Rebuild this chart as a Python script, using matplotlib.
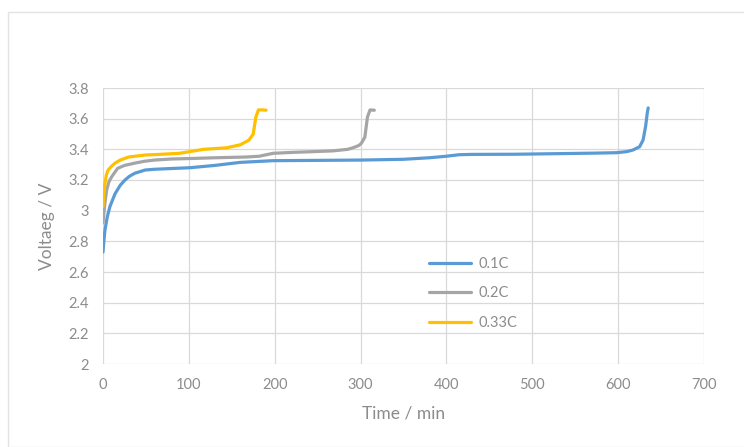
import matplotlib
matplotlib.use("Agg")
import matplotlib.pyplot as plt
from matplotlib.patches import Rectangle

# 0.1C
t_01 = [0, 1, 2.3, 5, 8, 14, 20, 25.6, 31, 37, 49, 60, 80, 101, 130, 160, 198, 250, 300, 350, 380, 400, 415, 430, 480, 532, 570, 598, 610, 617, 625, 629, 632, 634, 635]
v_01 = [2.73, 2.80, 2.874, 2.96, 3.026, 3.11, 3.165, 3.20, 3.225, 3.244, 3.265, 3.27, 3.275, 3.28, 3.295, 3.315, 3.326, 3.328, 3.33, 3.335, 3.345, 3.355, 3.365, 3.367, 3.368, 3.372, 3.375, 3.378, 3.385, 3.395, 3.417, 3.46, 3.55, 3.64, 3.67]
# 0.2C
t_02 = [0, 2, 4.3, 7, 10, 17, 25, 37, 48, 60, 80, 101, 130, 167, 182, 198, 220, 245, 268, 285, 291, 298, 301, 305, 308, 311, 316]
v_02 = [2.92, 3.04, 3.135, 3.19, 3.22, 3.276, 3.295, 3.31, 3.322, 3.33, 3.337, 3.34, 3.345, 3.35, 3.355, 3.374, 3.38, 3.385, 3.39, 3.40, 3.41, 3.425, 3.44, 3.48, 3.61, 3.657, 3.655]
# 0.33C
t_033 = [0, 1, 2.3, 4, 6, 10, 14, 20, 30, 49, 62, 89, 101, 117, 144, 160, 170, 175, 178, 181, 186, 190]
v_033 = [3.026, 3.11, 3.18, 3.235, 3.265, 3.29, 3.31, 3.33, 3.35, 3.363, 3.366, 3.374, 3.385, 3.40, 3.41, 3.43, 3.46, 3.50, 3.61, 3.657, 3.657, 3.655]

labels = ["0.1C", "0.2C", "0.33C"]
colors = ["#5B9BD5", "#A5A5A5", "#FFC000"]

x_ticks = [0, 100, 200, 300, 400, 500, 600, 700]
y_ticks = [2, 2.2, 2.4, 2.6, 2.8, 3, 3.2, 3.4, 3.6, 3.8]
y_tick_labels = ["2", "2.2", "2.4", "2.6", "2.8", "3", "3.2", "3.4", "3.6", "3.8"]

plt.rcParams['font.family'] = ['Lato', 'DejaVu Sans']

fig = plt.figure(figsize=(7.44, 4.47), dpi=100)
fig.patches.append(Rectangle((8/744, 0), 1, 1 - 12/447, transform=fig.transFigure,
                             facecolor="white", edgecolor="#E3E3E3", linewidth=1.0, zorder=-10))
ax = fig.add_axes([103/744, 1 - 364/447, 601/744, 276/447])
ax.set_facecolor("none")

for t, v, lab, c in zip([t_01, t_02, t_033], [v_01, v_02, v_033], labels, colors):
    ax.plot(t, v, color=c, lw=2.3, label=lab, solid_capstyle="round")

ax.set_xlim(0, 700)
ax.set_ylim(2, 3.8)
ax.set_xticks(x_ticks)
ax.set_yticks(y_ticks)
ax.set_yticklabels(y_tick_labels)
ax.grid(True, color="#D9D9D9", lw=0.9)
ax.set_axisbelow(True)
for s in ax.spines.values():
    s.set_visible(False)
ax.tick_params(length=0, colors="#8C8C8C", labelsize=10.5, pad=10)
ax.set_xlabel("Time / min", color="#8C8C8C", fontsize=12.5, labelpad=10)
ax.set_ylabel("Voltaeg / V", color="#8C8C8C", fontsize=12.5, labelpad=10)

leg = ax.legend(loc="upper left", bbox_to_anchor=(0.52, 0.435), frameon=False,
                fontsize=10.5, labelcolor="#8C8C8C", handlelength=2.9,
                handletextpad=0.5, labelspacing=1.05)

fig.savefig("out.png", dpi=100)
